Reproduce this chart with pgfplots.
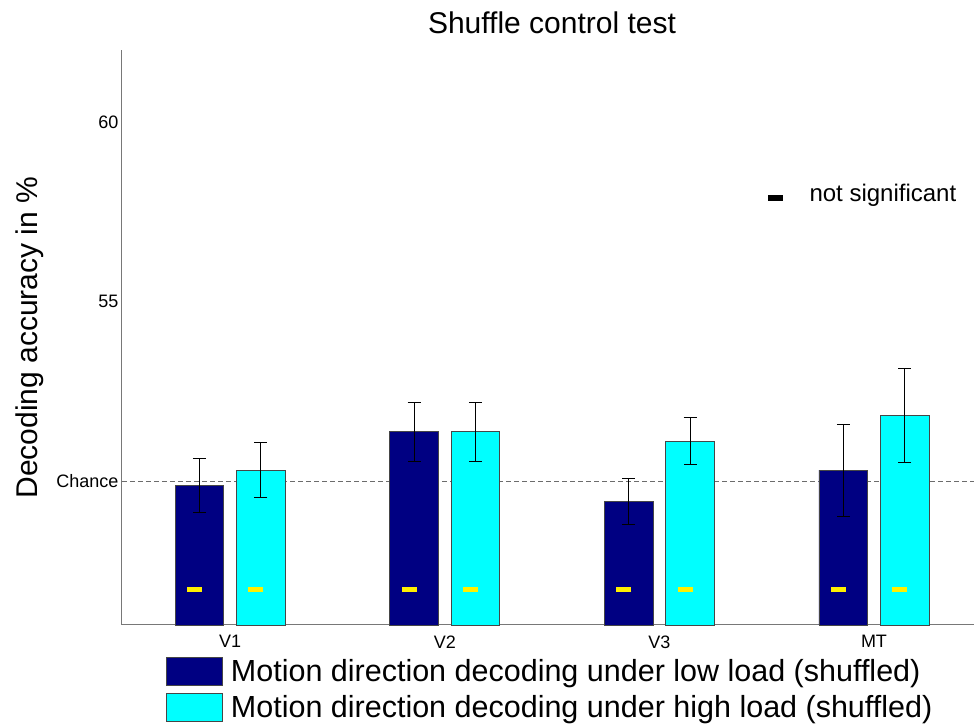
\documentclass[border=0pt]{standalone}
\usepackage{pgfplots}
\pgfplotsset{compat=1.18}
\usepackage{fontspec}
\setmainfont{Liberation Sans}
\definecolor{lowc}{RGB}{0,0,130}
\definecolor{highc}{RGB}{0,255,255}
\definecolor{edgec}{RGB}{70,70,70}
\definecolor{axc}{RGB}{120,120,120}
\definecolor{yel}{RGB}{255,240,0}
\begin{document}
\begin{tikzpicture}
\begin{axis}[
  width=852pt, height=575pt, scale only axis,
  xmin=-0.504, xmax=3.466, ymin=46, ymax=62,
  axis x line*=bottom, axis y line*=left,
  axis line style={axc, line width=1pt},
  major tick length=0pt,
  xtick={0,1,2,3}, xticklabels={V1,V2,V3,MT},
  ytick={50,55,60}, yticklabels={Chance,55,60},
  tick label style={font=\fontsize{18}{21}\selectfont},
  xticklabel style={yshift=-7pt},
  /pgf/number format/assume math mode=true,
  title={Shuffle control test},
  title style={font=\fontsize{30}{34}\selectfont, at={(axis description cs:0.5047,1.0191)}, anchor=base},
  ylabel={Decoding accuracy in \%},
  ylabel style={font=\fontsize{30}{34}\selectfont, at={(axis description cs:-0.0986,0.5)}, anchor=base},
  legend style={at={(axis description cs:0.0516,-0.0557)}, anchor=north west, draw=none, fill=none,
    font=\fontsize{30.5}{37}\selectfont, inner sep=0pt, row sep=7pt, column sep=6pt,
    nodes={inner sep=2pt}},
  legend cell align=left,
  legend image code/.code={\draw[#1, draw=edgec, line width=0.8pt] (0pt,-14pt) rectangle (56pt,14pt);},
  clip=false,
]
% chance line
\addplot[forget plot, color=gray!85!black, line width=1pt, dash pattern=on 5pt off 3pt] coordinates {(-0.504,50) (3.466,50)};
% low load
\addplot[ybar, bar width=0.227, bar shift=0pt, fill=lowc, draw=edgec, line width=0.8pt,
  error bars/.cd, y dir=both, y explicit,
  error bar style={black, line width=1pt},
  error mark options={rotate=90, black, mark size=6.5pt, line width=1pt}]
  coordinates {(-0.143,49.88) +- (0,0.76) (0.857,51.38) +- (0,0.82) (1.857,49.45) +- (0,0.64) (2.857,50.31) +- (0,1.28)};
\addlegendentry{Motion direction decoding under low load (shuffled)}
% high load
\addplot[ybar, bar width=0.227, bar shift=0pt, fill=highc, draw=edgec, line width=0.8pt,
  error bars/.cd, y dir=both, y explicit,
  error bar style={black, line width=1pt},
  error mark options={rotate=90, black, mark size=6.5pt, line width=1pt}]
  coordinates {(0.143,50.31) +- (0,0.76) (1.143,51.38) +- (0,0.82) (2.143,51.11) +- (0,0.65) (3.143,51.82) +- (0,1.31)};
\addlegendentry{Motion direction decoding under high load (shuffled)}
% not significant markers
\addplot[forget plot, only marks, mark=-, mark size=7.5pt, color=yel, mark options={line width=5pt}]
  coordinates {(-0.166,47) (0.120,47) (0.834,47) (1.120,47) (1.834,47) (2.120,47) (2.834,47) (3.120,47)};
\node[anchor=base west, font=\fontsize{24}{28}\selectfont] at (axis description cs:0.7535,0.7365) {\rule[0.5pt]{15pt}{6pt}\hspace{27pt}not significant};
\end{axis}
\pgfresetboundingbox
\path[use as bounding box] ([xshift=-122pt,yshift=-102pt]current axis.south west) rectangle ([yshift=50pt]current axis.north east);
\end{tikzpicture}
\end{document}
